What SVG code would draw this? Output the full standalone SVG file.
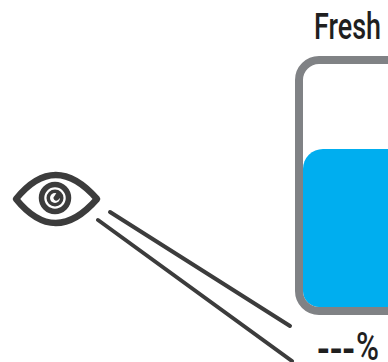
<svg xmlns="http://www.w3.org/2000/svg" width="388" height="362" viewBox="0 0 388 362">
<style>
.t{font-family:"Roboto","Liberation Sans",sans-serif;font-weight:500;font-size:37px;fill:#1f1f1f}
.d{font-family:"Liberation Sans",sans-serif;font-weight:700}
.l{fill:none;stroke:#3c3c3c;stroke-width:4;stroke-linecap:round}
</style>
<g id="connectors">
<path class="l" d="M110 212L290 326"/>
<path class="l" d="M98 220L292 361"/>
</g>
<g id="eye">
<path d="M16 199Q55 151 97 199Q55 247 16 199Z" fill="none" stroke="#3c3c3c" stroke-width="6.5" stroke-linejoin="round"/>
<circle cx="55" cy="198" r="13.5" fill="none" stroke="#3c3c3c" stroke-width="5.5"/>
<circle cx="55" cy="198" r="8.5" fill="#3c3c3c"/>
<circle cx="55" cy="198" r="5" fill="#fff"/>
<path d="M57 192L62 196L58 200A2.5 2.5 0 0 1 54.5 196Z" fill="#3c3c3c"/>
</g>
<g id="tank">
<path d="M303 291V169A20 20 0 0 1 323 149H393A20 20 0 0 1 413 169V307H319A16 16 0 0 1 303 291Z" fill="#00aeef"/>
<rect x="299" y="60" width="110" height="251" rx="20" fill="none" stroke="#808285" stroke-width="8"/>
<text class="t" x="314" y="39" textLength="67" lengthAdjust="spacingAndGlyphs">Fresh</text>
<text class="t" x="317" y="360"><tspan class="d" textLength="38" lengthAdjust="spacingAndGlyphs">---</tspan><tspan x="356" font-size="38" textLength="23" lengthAdjust="spacingAndGlyphs">%</tspan></text>
</g>
</svg>
